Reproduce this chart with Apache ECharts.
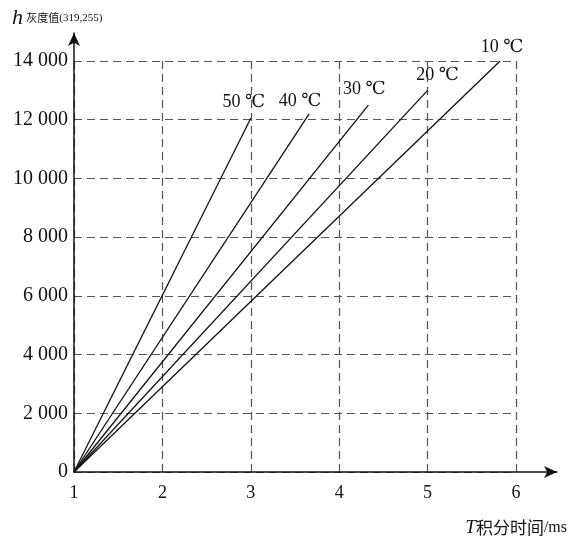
<!DOCTYPE html>
<html>
<head>
<meta charset="utf-8">
<script src="https://cdn.jsdelivr.net/npm/echarts@6/dist/echarts.min.js"></script>
<style>
  html, body { margin: 0; padding: 0; background: #fff; }
  #chart { width: 568px; height: 538px; }
</style>
</head>
<body>
<div id="chart"></div>
<script>
// temperature of each line and where it ends (all lines start at T=1, h=0)
var temps = ['50 ℃', '40 ℃', '30 ℃', '20 ℃', '10 ℃'];
var endT = [3.0, 3.66, 4.33, 5.0, 5.82];
var endH = [12050, 12200, 12500, 13000, 14000];
var startT = 1;
var startH = 0;
var xTicks = [1, 2, 3, 4, 5, 6];
var yTicks = [0, 2000, 4000, 6000, 8000, 10000, 12000, 14000];

// label nudges for the temperature texts
var labelOffsets = [[-7, -2], [-9, 1], [-4, -2], [10, -1], [2, 0]];

var serif = '"Liberation Serif", "DejaVu Serif", serif';
var cjk = '"Noto Sans CJK SC", serif';

function fmtNum(v) {
    return String(v).replace(/\B(?=(\d{3})+(?!\d))/g, ' ');
}

var series = [];
for (var i = 0; i < temps.length; i++) {
    series.push({
        type: 'line',
        name: temps[i],
        xAxisIndex: 0,
        yAxisIndex: 0,
        symbol: 'circle',
        symbolSize: 0.01,
        showSymbol: true,
        silent: true,
        itemStyle: { color: '#111' },
        lineStyle: { color: '#111', width: 1.3 },
        data: [
            [startT, startH],
            {
                value: [endT[i], endH[i]],
                label: {
                    show: true,
                    position: 'top',
                    distance: 5,
                    offset: labelOffsets[i],
                    formatter: temps[i],
                    color: '#111',
                    fontFamily: serif,
                    fontSize: 18
                }
            }
        ]
    });
}

var chartDom = document.getElementById('chart');
var myChart = echarts.init(chartDom);
var option;

option = {
    animation: false,
    backgroundColor: '#fff',
    grid: [
        // plot area with dashed grid
        { left: 74, right: 52, top: 61, bottom: 66 },
        // outer area for the arrowed axes
        { left: 74, right: 11, top: 33, bottom: 66 }
    ],
    xAxis: [{
        type: 'value',
        gridIndex: 0,
        min: xTicks[0],
        max: xTicks[xTicks.length - 1],
        interval: 1,
        axisLine: { show: false },
        axisTick: { show: false },
        axisLabel: {
            color: '#111', fontFamily: serif, fontSize: 18, margin: 12
        },
        splitLine: {
            show: true,
            lineStyle: { color: '#555', type: [8, 5], width: 1.2 }
        }
    }, {
        type: 'value',
        gridIndex: 1,
        min: 1,
        max: 6.5,
        axisLine: {
            show: true,
            symbol: ['none', 'arrow'],
            symbolSize: [9, 13],
            lineStyle: { color: '#111', width: 1.5 }
        },
        axisTick: { show: false },
        axisLabel: { show: false },
        splitLine: { show: false }
    }],
    yAxis: [{
        type: 'value',
        gridIndex: 0,
        min: yTicks[0],
        max: yTicks[yTicks.length - 1],
        interval: 2000,
        axisLine: { show: false },
        axisTick: { show: false },
        axisLabel: {
            color: '#111', fontFamily: serif, fontSize: 20, margin: 6,
            formatter: fmtNum
        },
        splitLine: {
            show: true,
            lineStyle: { color: '#555', type: [8, 5], width: 1.2 }
        }
    }, {
        type: 'value',
        gridIndex: 1,
        min: 0,
        max: 15000,
        axisLine: {
            show: true,
            symbol: ['none', 'arrow'],
            symbolSize: [9, 13],
            lineStyle: { color: '#111', width: 1.5 }
        },
        axisTick: { show: false },
        axisLabel: { show: false },
        splitLine: { show: false }
    }],
    graphic: [{
        type: 'text',
        left: 12,
        top: 7,
        style: {
            text: '{h|h} {s|灰度值}{n|(319,255)}',
            rich: {
                h: { fontFamily: serif, fontStyle: 'italic', fontSize: 22, fill: '#111' },
                s: { fontFamily: cjk, fontSize: 11, fill: '#111' },
                n: { fontFamily: serif, fontSize: 11, fill: '#111' }
            }
        }
    }, {
        type: 'text',
        right: 1,
        top: 518,
        style: {
            text: '{t|T}{c|积分时间}{m|/ms}',
            rich: {
                t: { fontFamily: serif, fontStyle: 'italic', fontSize: 19, fill: '#111' },
                c: { fontFamily: cjk, fontSize: 17, fill: '#111' },
                m: { fontFamily: serif, fontSize: 16, fill: '#111' }
            }
        }
    }],
    series: series
};

myChart.setOption(option);
</script>
</body>
</html>
